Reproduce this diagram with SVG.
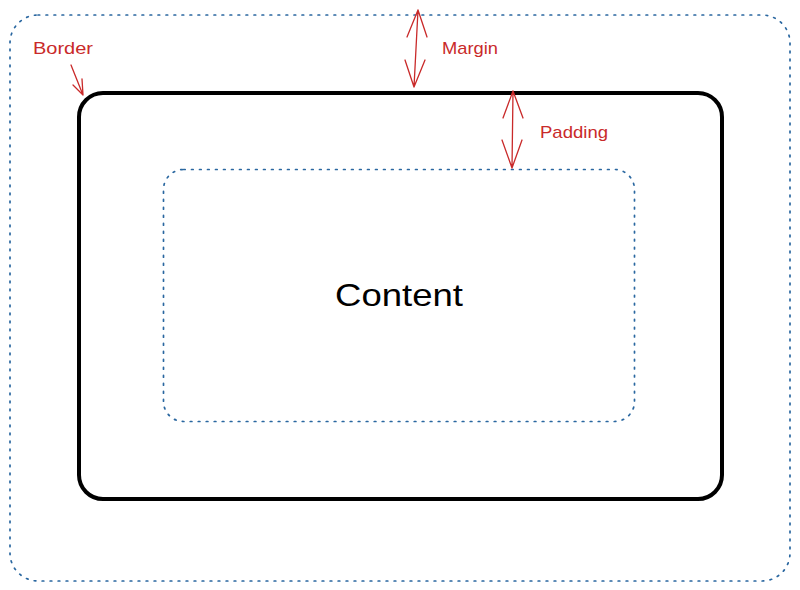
<svg xmlns="http://www.w3.org/2000/svg" width="800" height="590" viewBox="0 0 800 590">
<style>
.dot{fill:none;stroke:#2a67a0;stroke-width:1.7;stroke-dasharray:1.7 6.3;stroke-linecap:round}
.border{fill:none;stroke:#000;stroke-width:4}
.red{fill:none;stroke:#c92a2a;stroke-width:1.3;stroke-linecap:round;stroke-linejoin:round}
.lbl{font-family:"Liberation Sans",Arial,sans-serif;font-size:17px;fill:#c92a2a}
.content{font-family:"Liberation Sans",Arial,sans-serif;font-size:32px;fill:#000}
</style>
<rect width="800" height="590" fill="#fff"/>
<g id="margin-box">
<rect class="dot" x="10" y="15" width="780" height="566" rx="28" ry="28"/>
</g>
<g id="border-box">
<rect class="border" x="79" y="93" width="643" height="406" rx="24" ry="24"/>
</g>
<g id="content-box">
<rect class="dot" x="163.5" y="169.5" width="471" height="252" rx="20" ry="20"/>
<text class="content" x="399" y="306" text-anchor="middle" textLength="128" lengthAdjust="spacingAndGlyphs">Content</text>
</g>
<g id="labels">
<text class="lbl" x="33" y="54" textLength="60" lengthAdjust="spacingAndGlyphs">Border</text>
<text class="lbl" x="442" y="54" textLength="56" lengthAdjust="spacingAndGlyphs">Margin</text>
<text class="lbl" x="540" y="138" textLength="68" lengthAdjust="spacingAndGlyphs">Padding</text>
</g>
<g id="connectors">
<path class="red" d="M418 10 L414 87 M407 37 L418 10 L427 37 M405 60 L414 87 L425 60"/>
<path class="red" d="M513 91 L512 168 M503 118 L513 91 L523 118 M502 140 L512 168 L522 140"/>
<path class="red" d="M71 65 L83 95 M73 85 L83 95 L82 79"/>
</g>
</svg>
